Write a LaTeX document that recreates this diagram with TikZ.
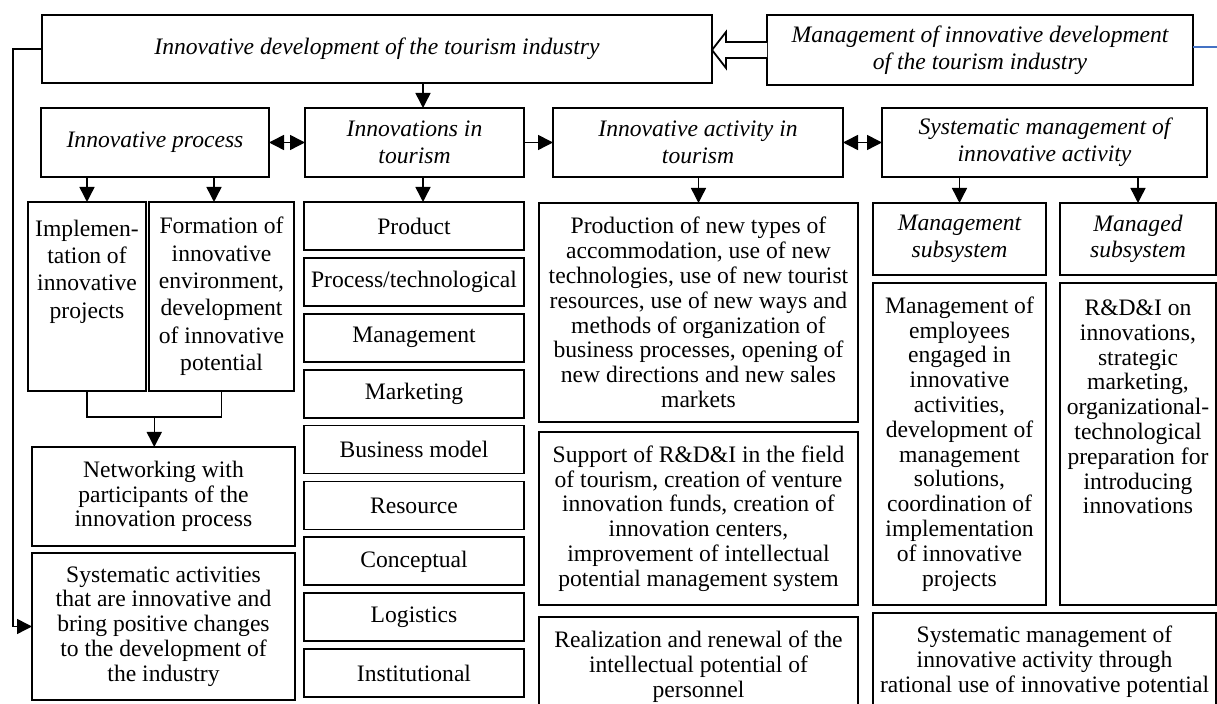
\documentclass[tikz,border=0pt]{standalone}
\usepackage{fontspec}
\setmainfont{Liberation Serif}
\usetikzlibrary{positioning,arrows.meta,calc}
\tikzset{>={Triangle[width=7.5pt,length=7.5pt]}}
\newcommand{\loosefont}{\fontsize{11.8}{13.7}\selectfont}
\newcommand{\tightfont}{\fontsize{11.8}{12.4}\selectfont}
\newcommand{\titlefont}{\fontsize{11.8}{13.3}\selectfont\itshape}
\definecolor{linkblue}{HTML}{4472C4}
\tikzset{
  box/.style={draw, line width=0.9pt, align=center, inner sep=1pt, outer sep=0pt, font=\tightfont},
  titlebox/.style={box, font=\titlefont},
  kindbox/.style={box, minimum width=110pt, minimum height=24pt},
  link/.style={line width=0.75pt}
}

\begin{document}
\begin{tikzpicture}[x=0.5pt, y=-0.5pt]
\useasboundingbox (0,0) rectangle (1217,704);
% top row
\node[titlebox, minimum width=335pt, minimum height=34pt] (topbox) at (377,49) {Innovative development of the tourism industry};
\node[titlebox, minimum width=213pt, minimum height=35pt] (mgmt) at (980,50) {Management of innovative development\\of the tourism industry};
\coordinate (blueend) at (1217,47);
\draw[draw=linkblue, line width=0.6pt] (mgmt.east |- blueend) -- (blueend);
\coordinate (tip) at (topbox.east |- mgmt.west);
\draw[line width=0.9pt, fill=white] ([yshift=4pt]mgmt.west) -- ++(-41,0) -- ++(0,-10) -- (tip)
  -- ++(14,18) -- ++(0,-10) -- ([yshift=-4pt]mgmt.west);

% second row
\node[titlebox, minimum width=114pt, minimum height=34.5pt] (proc) at (155,142.5) {Innovative process};
\node[titlebox, minimum width=109.5pt, minimum height=34.5pt] (innov) at (414.5,142.5) {Innovations in\\tourism};
\node[titlebox, minimum width=145pt, minimum height=34.5pt] (activ) at (698,142.5) {Innovative activity in\\tourism};
\node[titlebox, minimum width=162.5pt, minimum height=34.5pt] (sysm) at (1044.5,142.5) {Systematic management of\\innovative activity};

% innovative process
\node[box, font=\loosefont, minimum width=59pt, minimum height=94.5pt] (impl) at (87,296.5) {Implemen-\\tation of\\innovative\\projects\\~\\~};
\node[box, font=\loosefont, minimum width=72.5pt, minimum height=94.5pt] (form) at (221.5,296.5) {Formation of\\innovative\\environment,\\development\\of innovative\\potential};
\node[box, minimum width=131.5pt, minimum height=49.5pt] (netw) at (163.5,496.5) {Networking with\\participants of the\\innovation process};
\node[box, minimum width=131.5pt, minimum height=73.5pt] (sysact) at (163.5,626.5) {Systematic activities\\that are innovative and\\bring positive changes\\to the development of\\the industry};

% kinds of innovations
\node[kindbox] (kind1) at (414,226) {Product};
\node[kindbox, below=3.95pt of kind1] (kind2) {Process/technological};
\node[kindbox, below=3.95pt of kind2] (kind3) {Management};
\node[kindbox, below=3.95pt of kind3] (kind4) {Marketing};
\node[kindbox, below=3.95pt of kind4] (kind5) {Business model};
\node[kindbox, below=3.95pt of kind5] (kind6) {Resource};
\node[kindbox, below=3.95pt of kind6] (kind7) {Conceptual};
\node[kindbox, below=3.95pt of kind7] (kind8) {Logistics};
\node[kindbox, below=3.95pt of kind8] (kind9) {Institutional};

% innovative activity
\node[box, minimum width=159.5pt, minimum height=109.5pt] (prodn) at (698.5,312.5) {Production of new types of\\accommodation, use of new\\technologies, use of new tourist\\resources, use of new ways and\\methods of organization of\\business processes, opening of\\new directions and new sales\\markets};
\node[box, minimum width=159.5pt, minimum height=86.5pt] (support) at (698.5,518.5) {Support of R\&D\&I in the field\\of tourism, creation of venture\\innovation funds, creation of\\innovation centers,\\improvement of intellectual\\potential management system};
\node[box, minimum width=159.5pt, minimum height=49.5pt] (realiz) at (698.5,666.5) {Realization and renewal of the\\intellectual potential of\\personnel};

% systematic management
\node[titlebox, minimum width=86.5pt, minimum height=36pt] (mgsub) at (959.5,239) {Management\\subsystem};
\node[titlebox, minimum width=78pt, minimum height=36pt] (mdsub) at (1138,239) {Managed\\subsystem};
\node[box, minimum width=86.5pt, minimum height=161pt] (mgdet) at (959.5,444) {Management of\\employees\\engaged in\\innovative\\activities,\\development of\\management\\solutions,\\coordination of\\implementation\\of innovative\\projects};
\node[box, minimum width=78pt, minimum height=161pt] (mddet) at (1138,444) {R\&D\&I on\\innovations,\\strategic\\marketing,\\organizational-\\technological\\preparation for\\introducing\\innovations\\~\\~\\~};
\node[box, minimum width=171.5pt, minimum height=48.5pt] (sysbot) at (1044.5,661.5) {Systematic management of\\innovative activity through\\rational use of innovative potential};

% connectors
\coordinate (innovtop) at ([xshift=4.25pt]innov.north);
\coordinate (innovbot) at ([xshift=4.25pt]innov.south);
\coordinate (formtop) at ([xshift=-3.75pt]form.north);
\draw[link,->] (innovtop |- topbox.south) -- (innovtop);
\draw[link,<->] (proc) -- (innov);
\draw[link,->] (innov) -- (activ);
\draw[link,<->] (activ) -- (sysm);
\draw[link,->] (impl.north |- proc.south) -- (impl.north);
\draw[link,->] (formtop |- proc.south) -- (formtop);
\draw[link,->] (innovbot) -- (innovbot |- kind1.north);
\draw[link,->] (prodn.north |- activ.south) -- (prodn.north);
\draw[link,->] (mgsub.north |- sysm.south) -- (mgsub.north);
\draw[link,->] (mdsub.north |- sysm.south) -- (mdsub.north);
\draw[link] (impl.south) -- ++(0,26) -| (form.south);
\coordinate (brmid) at ($(impl.south)!0.5!(form.south)+(0,26)$);
\draw[link,->] (brmid) -- (brmid |- netw.north);
\draw[link,->] (topbox.west) -- ++(-29,0) |- (sysact.west);
\end{tikzpicture}
\end{document}
